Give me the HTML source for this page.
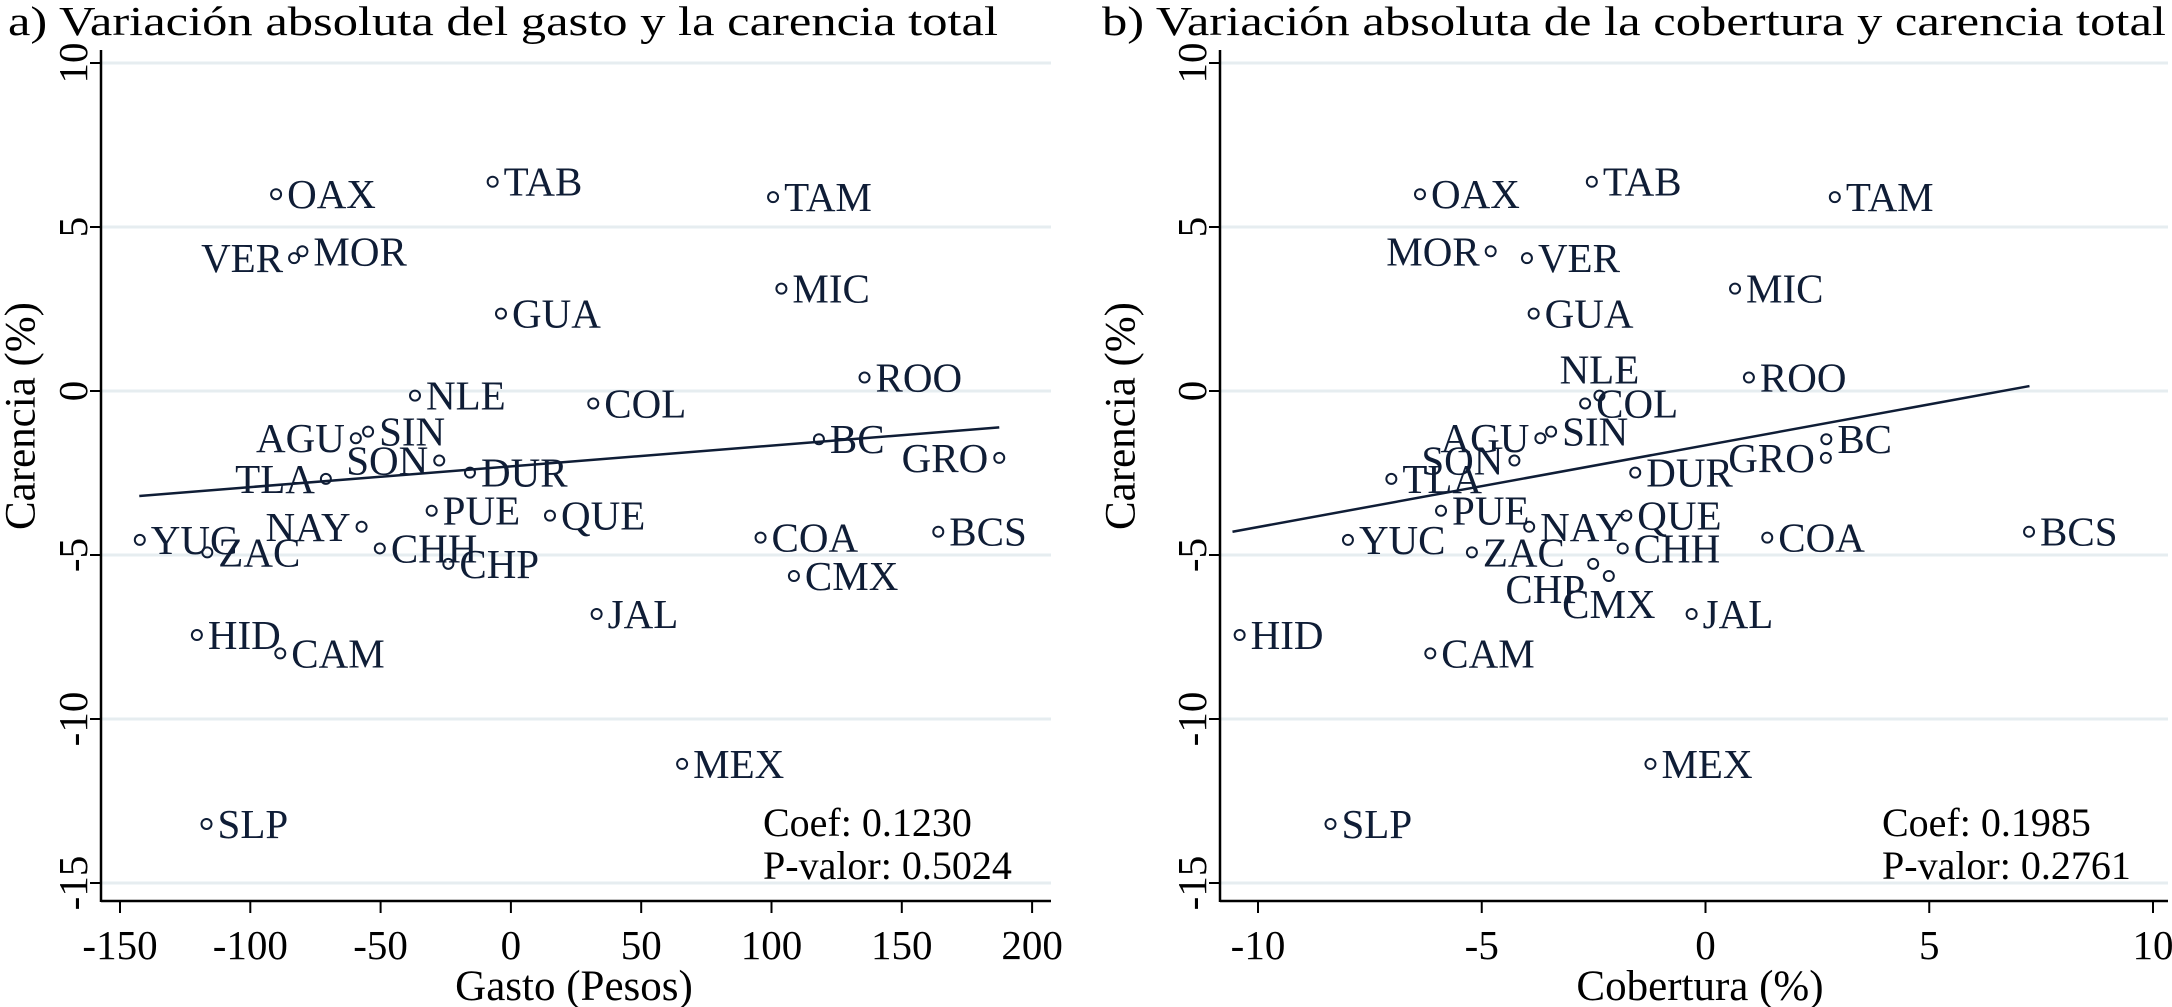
<!DOCTYPE html>
<html><head><meta charset="utf-8"><style>
html,body{margin:0;padding:0;background:#fff;}
svg{display:block;font-family:"Liberation Serif",serif;}
</style></head><body>
<svg id="chart" width="2172" height="1007" viewBox="0 0 2172 1007" xmlns="http://www.w3.org/2000/svg"></svg>
<script>
const states = ["OAX","TAB","TAM","VER","MOR","MIC","GUA","ROO","NLE","COL","AGU","SIN","BC","GRO","SON","TLA","DUR","PUE","QUE","YUC","NAY","COA","BCS","ZAC","CHH","CHP","CMX","JAL","HID","CAM","MEX","SLP"];
const carencia = [6.0,6.38,5.91,4.05,4.26,3.12,2.36,0.41,-0.14,-0.38,-1.44,-1.24,-1.47,-2.04,-2.12,-2.68,-2.49,-3.65,-3.8,-4.54,-4.14,-4.47,-4.29,-4.92,-4.8,-5.27,-5.64,-6.8,-7.44,-8.0,-11.37,-13.2];
const gasto = [-90.1,-7.0,100.6,-83.2,-80,103.8,-3.8,135.7,-36.8,31.6,-59.5,-54.8,118.2,187.4,-27.5,-71,-15.7,-30.4,15,-142.4,-57.3,95.8,164,-116.5,-50.3,-24,108.6,32.9,-120.5,-88.5,65.7,-116.8];
const cobertura = [-6.38,-2.54,2.89,-3.99,-4.8,0.66,-3.84,0.97,-2.37,-2.69,-3.69,-3.45,2.70,2.69,-4.27,-7.02,-1.57,-5.91,-1.77,-7.99,-3.94,1.38,7.23,-5.22,-1.85,-2.51,-2.16,-0.31,-10.41,-6.15,-1.23,-8.38];
const labelPosA = {VER:"left",SON:"left",TLA:"left",NAY:"left",AGU:"left",GRO:"left"};
const labelPosB = {MOR:"left",SON:"left",AGU:"left",GRO:"left",NLE:"above",CHP:"belowleft",CMX:"below"};
const yTicks = [10,5,0,-5,-10,-15];
const xTicksA = [-150,-100,-50,0,50,100,150,200];
const xTicksB = [-10,-5,0,5,10];
const fitA_x = [-142.6,187.4];
const fitA_y = [-3.2,-1.11];
const fitB_x = [-10.57,7.24];
const fitB_y = [-4.29,0.15];
const statsA = ["Coef: 0.1230","P-valor: 0.5024"];
const statsB = ["Coef: 0.1985","P-valor: 0.2761"];

const NS="http://www.w3.org/2000/svg";
const svg=document.getElementById('chart');
const C="#0f1d36";
function mk(tag,attrs,parent){const e=document.createElementNS(NS,tag);for(const k in attrs)e.setAttribute(k,attrs[k]);(parent||svg).appendChild(e);return e;}

function panel(cfg){
  const g=mk('g',{});
  
  
  const sx=v=>cfg.x0+(v-cfg.xmin)*cfg.xs;
  const sy=v=>391-v*32.8;
  yTicks.forEach(t=>{
    const l=mk('line',{x1:cfg.axL,x2:cfg.axR,y1:sy(t),y2:sy(t),stroke:"#e6edf0","stroke-width":3},g);
    
    
  });
  const ya=mk('line',{x1:cfg.axL,x2:cfg.axL,y1:50,y2:902,stroke:"#000","stroke-width":2.5},g);
  
  
  const xa=mk('line',{x1:cfg.axL,x2:cfg.axR,y1:901,y2:901,stroke:"#000","stroke-width":2.5},g);
  
  
  yTicks.forEach(t=>{
    mk('line',{x1:cfg.axL-11,x2:cfg.axL,y1:sy(t),y2:sy(t),stroke:"#000","stroke-width":2},g);
    const tx=mk('text',{x:0,y:0,transform:`translate(${cfg.axL-28},${sy(t)}) rotate(-90)`,"text-anchor":"middle","dominant-baseline":"central","font-size":41,fill:"#000"},g);
    tx.textContent=t;
    
    
  });
  cfg.xticks.forEach(t=>{
    mk('line',{x1:sx(t),x2:sx(t),y1:901,y2:913,stroke:"#000","stroke-width":2},g);
    const tx=mk('text',{x:sx(t),y:959,"text-anchor":"middle","font-size":41,fill:"#000"},g);
    tx.textContent=t;
    
    
  });
  const fl=mk('line',{x1:sx(cfg.fx[0]),y1:sy(cfg.fy[0]),x2:sx(cfg.fx[1]),y2:sy(cfg.fy[1]),stroke:C,"stroke-width":2.5},g);
  
  
  states.forEach((s,i)=>{
    const px=sx(cfg.xs_data[i]),py=sy(carencia[i]);
    const c=mk('circle',{cx:px,cy:py,r:5,fill:"none",stroke:C,"stroke-width":2},g);
    
    
    const pos=cfg.pos[s]||"right";
    let a={"font-size":41,fill:C,"dominant-baseline":"central"};
    if(pos==="right"){a.x=px+11;a.y=py;a['text-anchor']='start';}
    else if(pos==="left"){a.x=px-11;a.y=py;a['text-anchor']='end';}
    else if(pos==="above"){a.x=px;a.y=py-26;a['text-anchor']='middle';}
    else if(pos==="below"){a.x=px;a.y=py+28;a['text-anchor']='middle';}
    else {a.x=px-8;a.y=py+25;a['text-anchor']='end';}
    const t=mk('text',a,g);
    t.textContent=s;
    
    
  });
  cfg.stats.forEach((s,i)=>{
    const t=mk('text',{x:cfg.statX,y:836+i*43,"font-size":40,fill:"#000"},g);
    t.textContent=s;
    
    
  });
  const ti=mk('text',{x:cfg.titleX,y:35,"text-anchor":"middle","font-size":41,fill:"#000",textLength:cfg.titleW,lengthAdjust:"spacingAndGlyphs"},g);
  ti.textContent=cfg.title;
  
  
  const xt=mk('text',{x:cfg.xtX,y:1000,"text-anchor":"middle","font-size":43,fill:"#000"},g);
  xt.textContent=cfg.xtitle;
  
  
  const yt=mk('text',{x:0,y:0,transform:`translate(${cfg.ytX},416) rotate(-90)`,"text-anchor":"middle","dominant-baseline":"central","font-size":43,fill:"#000"},g);
  yt.textContent="Carencia (%)";
  
  
}
panel({name:"panel-a-gasto",x0:120,xmin:-150,xs:2.606,axL:101,axR:1051,xticks:xTicksA,xs_data:gasto,pos:labelPosA,fx:fitA_x,fy:fitA_y,stats:statsA,statX:763,title:"a) Variación absoluta del gasto y la carencia total",titleX:503,titleW:990,xtitle:"Gasto (Pesos)",xtX:574,ytX:21});
panel({name:"panel-b-cobertura",x0:1258,xmin:-10,xs:44.75,axL:1220,axR:2168,xticks:xTicksB,xs_data:cobertura,pos:labelPosB,fx:fitB_x,fy:fitB_y,stats:statsB,statX:1882,title:"b) Variación absoluta de la cobertura y carencia total",titleX:1634,titleW:1064,xtitle:"Cobertura (%)",xtX:1700,ytX:1121});
</script>
</body></html>
